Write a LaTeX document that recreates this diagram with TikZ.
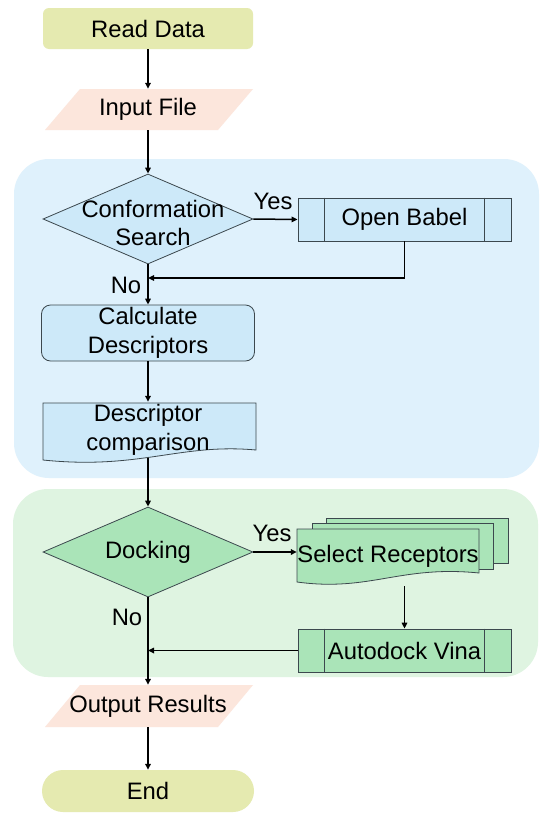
\documentclass[tikz,border=0pt]{standalone}
\usepackage{fontspec}
\setmainfont{Liberation Sans}
\usetikzlibrary{shapes.geometric,arrows.meta}
\definecolor{yel}{RGB}{229,234,176}
\definecolor{pnk}{RGB}{252,230,220}
\definecolor{blreg}{RGB}{223,241,252}
\definecolor{blnode}{RGB}{205,233,249}
\definecolor{grreg}{RGB}{223,244,225}
\definecolor{grnode}{RGB}{170,228,184}
\definecolor{bord}{RGB}{60,72,78}
\begin{document}
\begin{tikzpicture}[x=1pt,y=-1pt,
  txt/.style={font=\fontsize{23.8}{28.5}\selectfont, align=center, inner sep=0pt, text=black},
  conn/.style={draw=black, line width=1.5pt},
  arr/.style={conn, -{Triangle[length=6pt,width=5.5pt]}},
  edge/.style={draw=bord, line width=0.8pt},
  dia/.style={txt, shape=diamond, aspect=2.33, minimum width=210pt, minimum height=90pt, edge},
  proc/.style={txt, rectangle, edge, minimum width=213pt, minimum height=43pt},
]
\useasboundingbox (0,0) rectangle (550,819);
\fill[white] (0,0) rectangle (550,819);
% group regions
\fill[blreg, rounded corners=35pt] (14,159) rectangle (539,478);
\fill[grreg, rounded corners=35pt] (13,489) rectangle (538,677);

% start
\node[txt, fill=yel, rounded corners=6pt, minimum width=210pt, minimum height=41pt] (read) at (148,28.5) {Read Data};

% input file
\fill[pnk] (45,130) -- (218,130) -- (253,89) -- (80,89) -- cycle;
\node[txt, minimum width=176pt, minimum height=41pt] (input) at (148,109.5) {Input File};

% conformation search
\node[dia, fill=blnode] (conf) at (148,219) {};
\node[txt] (conft) at (153,223) {Conformation\\Search};

% open babel
\node[proc, fill=blnode] (openb) at (404.5,219.5) {Open Babel};
\draw[edge] ([xshift=27pt]openb.north west) -- ([xshift=27pt]openb.south west);
\draw[edge] ([xshift=-27pt]openb.north east) -- ([xshift=-27pt]openb.south east);

% calculate descriptors
\node[txt, edge, fill=blnode, rounded corners=9pt, minimum width=213pt, minimum height=56pt] (calc) at (148,333) {Calculate\\Descriptors};

% descriptor comparison (document)
\filldraw[edge, fill=blnode] (43,403) -- (256,403) -- (256,450)
  .. controls (180,443) and (140,470) .. (43,460) -- cycle;
\node[txt, minimum width=210pt, minimum height=56pt] (desc) at (148,430) {Descriptor\\comparison};

% docking
\node[dia, fill=grnode] (dock) at (148,552) {Docking};

% select receptors (multi-document)
\filldraw[edge, fill=grnode] (326,518) rectangle (508,563);
\filldraw[edge, fill=grnode] (312,523) rectangle (493,569);
\filldraw[edge, fill=grnode] (297,529) -- (479,529) -- (479,573)
  .. controls (400,565) and (370,592) .. (297,582) -- cycle;
\node[txt, minimum width=182pt, minimum height=60pt] (sel) at (388,556) {Select Receptors};

% autodock vina
\node[proc, fill=grnode] (autod) at (404.5,650.5) {Autodock Vina};
\draw[edge] ([xshift=27pt]autod.north west) -- ([xshift=27pt]autod.south west);
\draw[edge] ([xshift=-27pt]autod.north east) -- ([xshift=-27pt]autod.south east);

% output results
\fill[pnk] (45,727) -- (218,727) -- (253,685) -- (80,685) -- cycle;
\node[txt, minimum width=176pt, minimum height=42pt] (out) at (148,706) {Output Results};

% end
\node[txt, fill=yel, rounded corners=21pt, minimum width=212pt, minimum height=42pt] (end) at (148,791) {End};

% merge points
\coordinate (merge1) at (148,278);
\coordinate (merge2) at (148,650.5);

% connectors
\draw[arr] (read.south) -- (input.north);
\draw[arr] (input.south) -- (conf.north);
\draw[arr] (conf.east) -- (openb.west);
\draw[arr] (openb.south) |- (merge1);
\draw[arr] (conf.south) -- (calc.north);
\draw[arr] (calc.south) -- (desc.north);
\draw[arr] (desc.south) -- (dock.north);
\draw[arr] (dock.east) -- (sel.west |- dock.east);
\draw[arr] (sel.south -| autod.north) -- (autod.north);
\draw[arr] (autod.west) -- (merge2);
\draw[arr] (dock.south) -- (out.north);
\draw[arr] (out.south) -- (end.north);

% labels
\node[txt] (yes1) at (273,201) {Yes};
\node[txt] (no1) at (126,285) {No};
\node[txt] (yes2) at (272,533) {Yes};
\node[txt] (no2) at (127,617) {No};
\end{tikzpicture}
\end{document}
